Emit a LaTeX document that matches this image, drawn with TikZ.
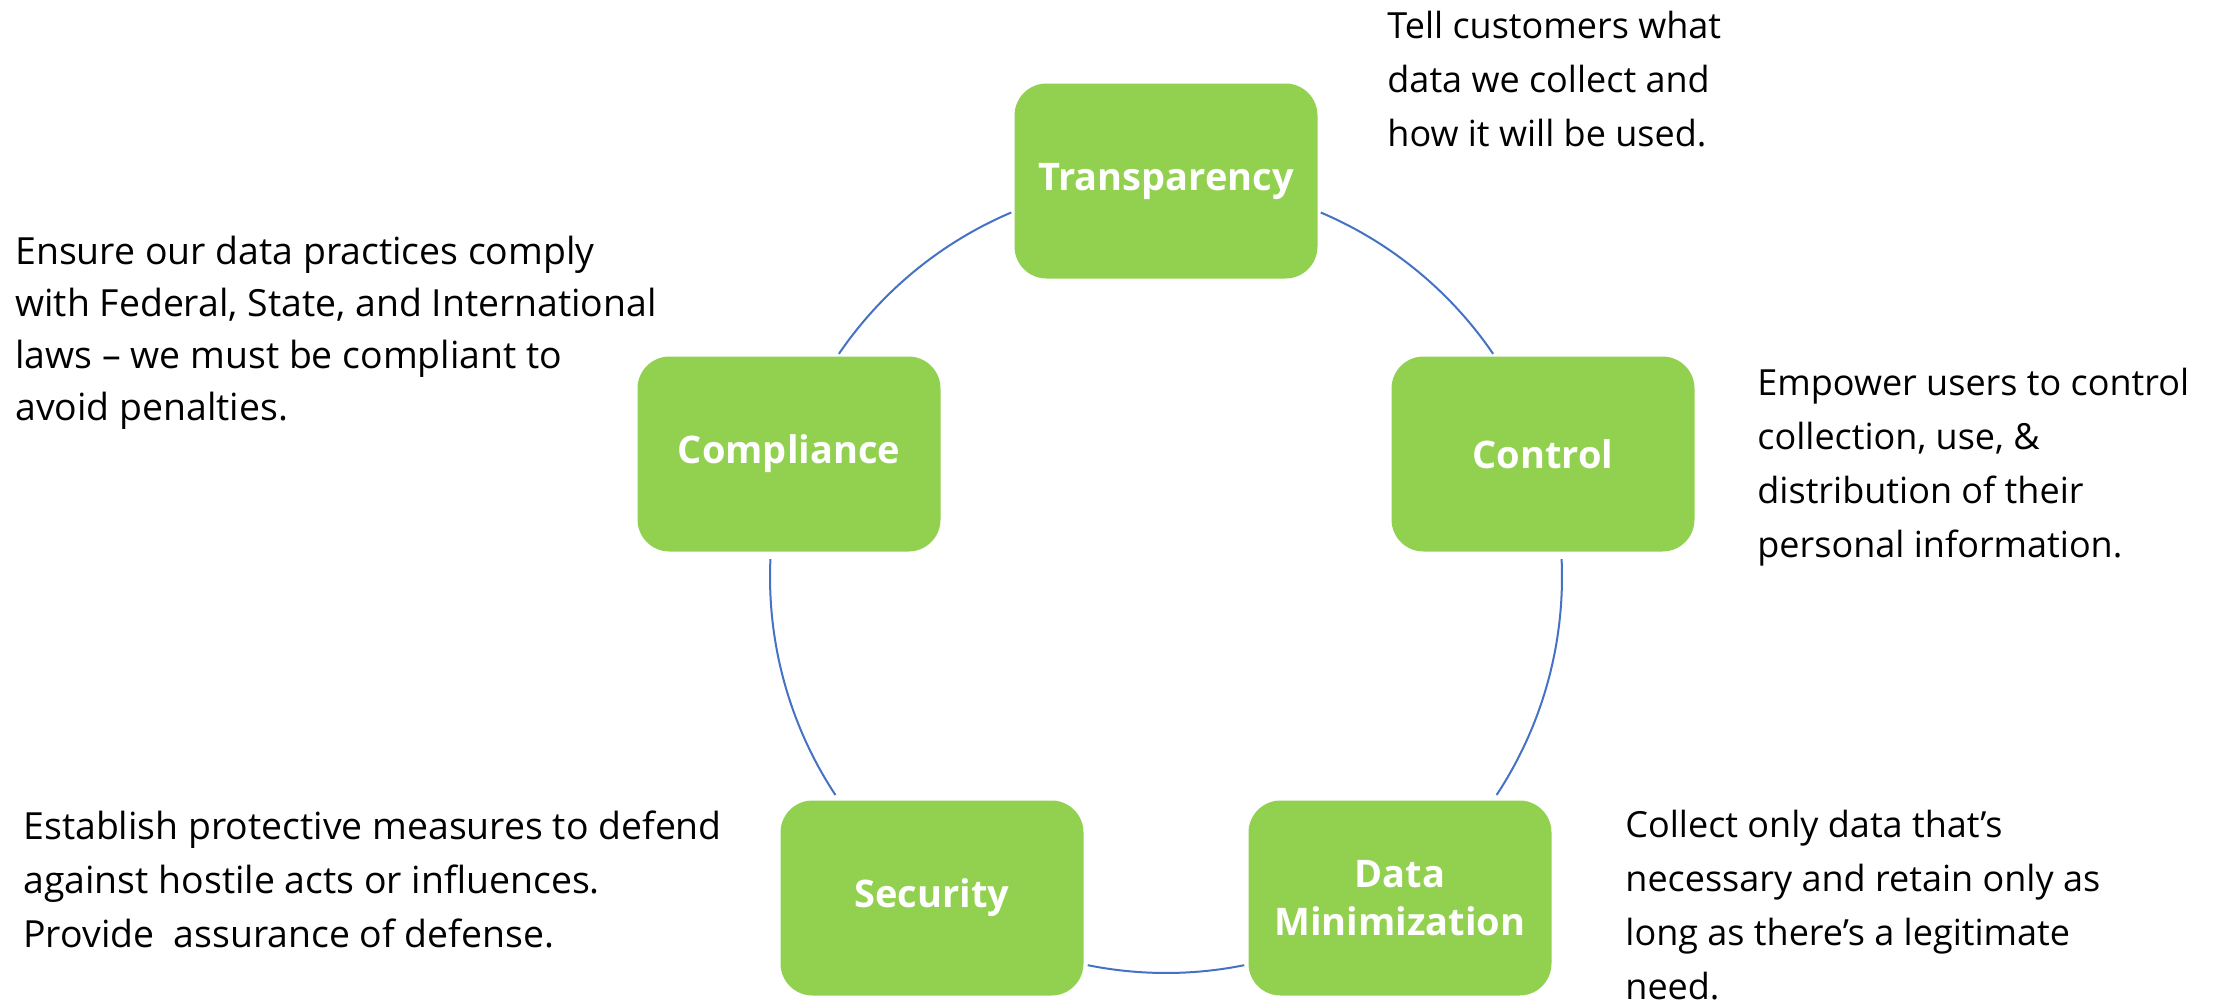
\documentclass[tikz,border=0pt]{standalone}
\usepackage{fontspec}
\setmainfont{Open Sans}
\definecolor{leaf}{HTML}{92D050}
\definecolor{ringblue}{HTML}{4472C4}
\tikzset{
  pillar/.style={rectangle, rounded corners=16pt, fill=leaf, text=white,
    font=\fontsize{19}{24}\selectfont\bfseries, align=center, inner sep=0pt,
    minimum width=151.5pt, minimum height=97.5pt},
  % anchored at the baseline of the last line
  blurb/.style={anchor=base west, align=left, inner sep=0pt,
    font=\fontsize{18}{27}\selectfont},
  ring/.style={ringblue, line width=1pt}
}
\begin{document}
\begin{tikzpicture}[x=0.5pt,y=0.5pt]
    \useasboundingbox (0,0) rectangle (2227,-1007);
    \coordinate (hub) at (1166,-577);
    % the five boxes on the ring
    \node[pillar] (transp) at (1166,-181) {Transparency};
    \node[pillar] (ctrl) at (1543,-454) {Control};
    \node[pillar] (datamin) at (1400,-898) {Data\\Minimization};
    \node[pillar] (secur) at (932,-898) {Security};
    \node[pillar] (compl) at (789,-454) {Compliance};
    % ring pieces between the boxes
    \draw[ring] ([shift={(67:396)}]hub) arc[start angle=67, end angle=34.3, radius=396];
    \draw[ring] ([shift={(2.6:396)}]hub) arc[start angle=2.6, end angle=-33.4, radius=396];
    \draw[ring] ([shift={(-78.6:396)}]hub) arc[start angle=-78.6, end angle=-101.4, radius=396];
    \draw[ring] ([shift={(213.4:396)}]hub) arc[start angle=213.4, end angle=177.4, radius=396];
    \draw[ring] ([shift={(145.7:396)}]hub) arc[start angle=145.7, end angle=113, radius=396];
    % descriptions
    \node[blurb] (transptxt) at (1387,-146) {Tell customers what\\data we collect and\\how it will be used.};
    \node[blurb] (ctrltxt) at (1757,-557) {Empower users to control\\collection, use, \&\\distribution of their\\personal information.};
    \node[blurb] (datamintxt) at (1625,-999) {Collect only data that’s\\necessary and retain only as\\long as there’s a legitimate\\need.};
    \node[blurb, font=\fontsize{18.7}{27}\selectfont] (securtxt) at (23,-947) {Establish protective measures to defend\\against hostile acts or influences.\\Provide\ \ assurance of defense.};
    \node[blurb, font=\fontsize{18.7}{26}\selectfont] (compltxt) at (15,-420) {Ensure our data practices comply\\with Federal, State, and International\\laws – we must be compliant to\\avoid penalties.};
\end{tikzpicture}
\end{document}
